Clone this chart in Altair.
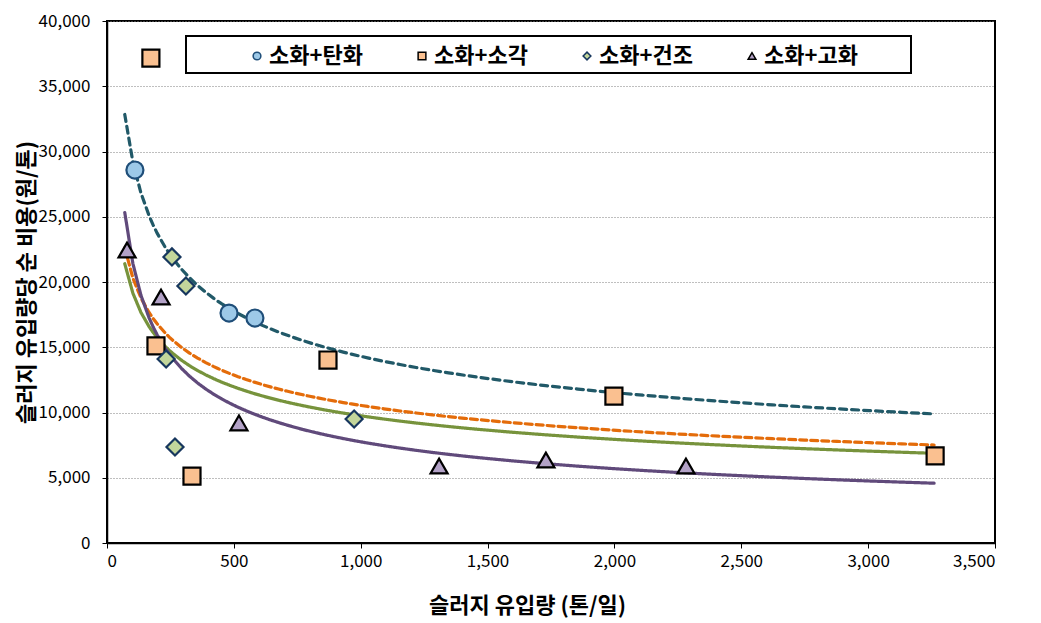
import altair as alt
import pandas as pd

FONT = "Noto Sans CJK KR"

series_names = ["소화+탄화", "소화+소각", "소화+건조", "소화+고화"]

x_tanhwa = [110, 481, 583]
y_tanhwa = [28580, 17620, 17240]

x_sogak = [173, 193, 335, 871, 1998, 3264]
y_sogak = [37160, 15100, 5130, 14020, 11260, 6670]

x_geonjo = [256, 311, 233, 268, 974]
y_geonjo = [21920, 19690, 14100, 7360, 9500]

x_gohwa = [79, 213, 520, 1309, 1730, 2282]
y_gohwa = [22450, 18850, 9200, 5900, 6360, 5900]

x_ticks = [0, 500, 1000, 1500, 2000, 2500, 3000, 3500]
y_ticks = [0, 5000, 10000, 15000, 20000, 25000, 30000, 35000, 40000]

shapes = ["circle", "square", "diamond", "triangle-up"]
fills = ["#9DC9E8", "#FAC090", "#C3D69B", "#B3A2C7"]
strokes = ["#1F4E79", "#000000", "#17375E", "#000000"]
line_colors = ["#215968", "#E46C0A", "#77933C", "#604A7B"]
line_dashes = [[7, 5], [7, 4], [1, 0], [1, 0]]

rows = []
for name, xs, ys in zip(series_names,
                        [x_tanhwa, x_sogak, x_geonjo, x_gohwa],
                        [y_tanhwa, y_sogak, y_geonjo, y_gohwa]):
    for xv, yv in zip(xs, ys):
        rows.append({"series": name, "x": xv, "y": yv})
df = pd.DataFrame(rows)

xscale = alt.Scale(domain=[0, 3500], nice=False)
yscale = alt.Scale(domain=[0, 40000], nice=False)

x_axis = alt.Axis(values=x_ticks, format=",d", grid=False, title="슬러지 유입량 (톤/일)",
                  titleX=420, titleY=62, titleBaseline="middle", titleAnchor="start",
                  titleAlign="center")
y_axis = alt.Axis(values=y_ticks, format=",d", grid=True, title="슬러지 유입량당 순 비용(원/톤)",
                  titleX=-81, titleY=261, titleAnchor="start", titleAlign="center",
                  titleBaseline="middle", titleAngle=270, titleFontSize=22)

base = alt.Chart(df)

lines = []
for name, col, dash in zip(series_names, line_colors, line_dashes):
    ln = base.transform_filter(alt.datum.series == name).transform_regression(
        "x", "y", method="pow", extent=[70, 3260]
    ).mark_line(color=col, strokeWidth=3.2, strokeDash=dash, strokeCap="round").encode(
        x=alt.X("x:Q", scale=xscale, axis=x_axis),
        y=alt.Y("y:Q", scale=yscale, axis=y_axis),
    )
    lines.append(ln)

points = base.mark_point(filled=False, size=290, strokeWidth=2.2, opacity=1).encode(
    x=alt.X("x:Q", scale=xscale, axis=x_axis),
    y=alt.Y("y:Q", scale=yscale, axis=y_axis),
    shape=alt.Shape("series:N", scale=alt.Scale(domain=series_names, range=shapes),
                    legend=alt.Legend(title=None, orient="none", direction="horizontal",
                                      columns=4, legendX=139, legendY=24,
                                      columnPadding=48, symbolSize=60,
                                      symbolStrokeWidth=1.5, labelFont=FONT,
                                      labelFontSize=22, labelFontWeight="bold",
                                      labelColor="#000000", labelOffset=1,
                                      padding=0, labelLimit=200)),
    fill=alt.Fill("series:N", scale=alt.Scale(domain=series_names, range=fills)),
    stroke=alt.Stroke("series:N", scale=alt.Scale(domain=series_names, range=strokes)),
)

frame = alt.Chart(pd.DataFrame({"a": [0]})).mark_rect(
    fill="white", stroke="black", strokeWidth=2
).encode(
    x=alt.value(79), x2=alt.value(804), y=alt.value(15), y2=alt.value(52)
)

chart = alt.layer(*lines, points, frame).properties(
    width=888, height=522,
    autosize=alt.AutoSizeParams(type="none"),
    padding={"left": 99, "top": 13, "right": 30, "bottom": 80},
).configure_view(
    stroke="black", strokeWidth=2
).configure_axis(
    labelFont=FONT, labelFontSize=17, labelColor="#000000",
    titleFont=FONT, titleFontSize=22, titleFontWeight="bold", titleColor="#000000",
    domainColor="#000000", domainWidth=1.5, tickColor="#000000", tickSize=5,
    gridColor="#7F7F7F", gridDash=[1, 2], gridWidth=1,
).configure_axisY(
    labelPadding=12
).configure_axisX(
    labelPadding=5
)

chart.save("out.html", embed_options={"renderer": "svg", "actions": False})
